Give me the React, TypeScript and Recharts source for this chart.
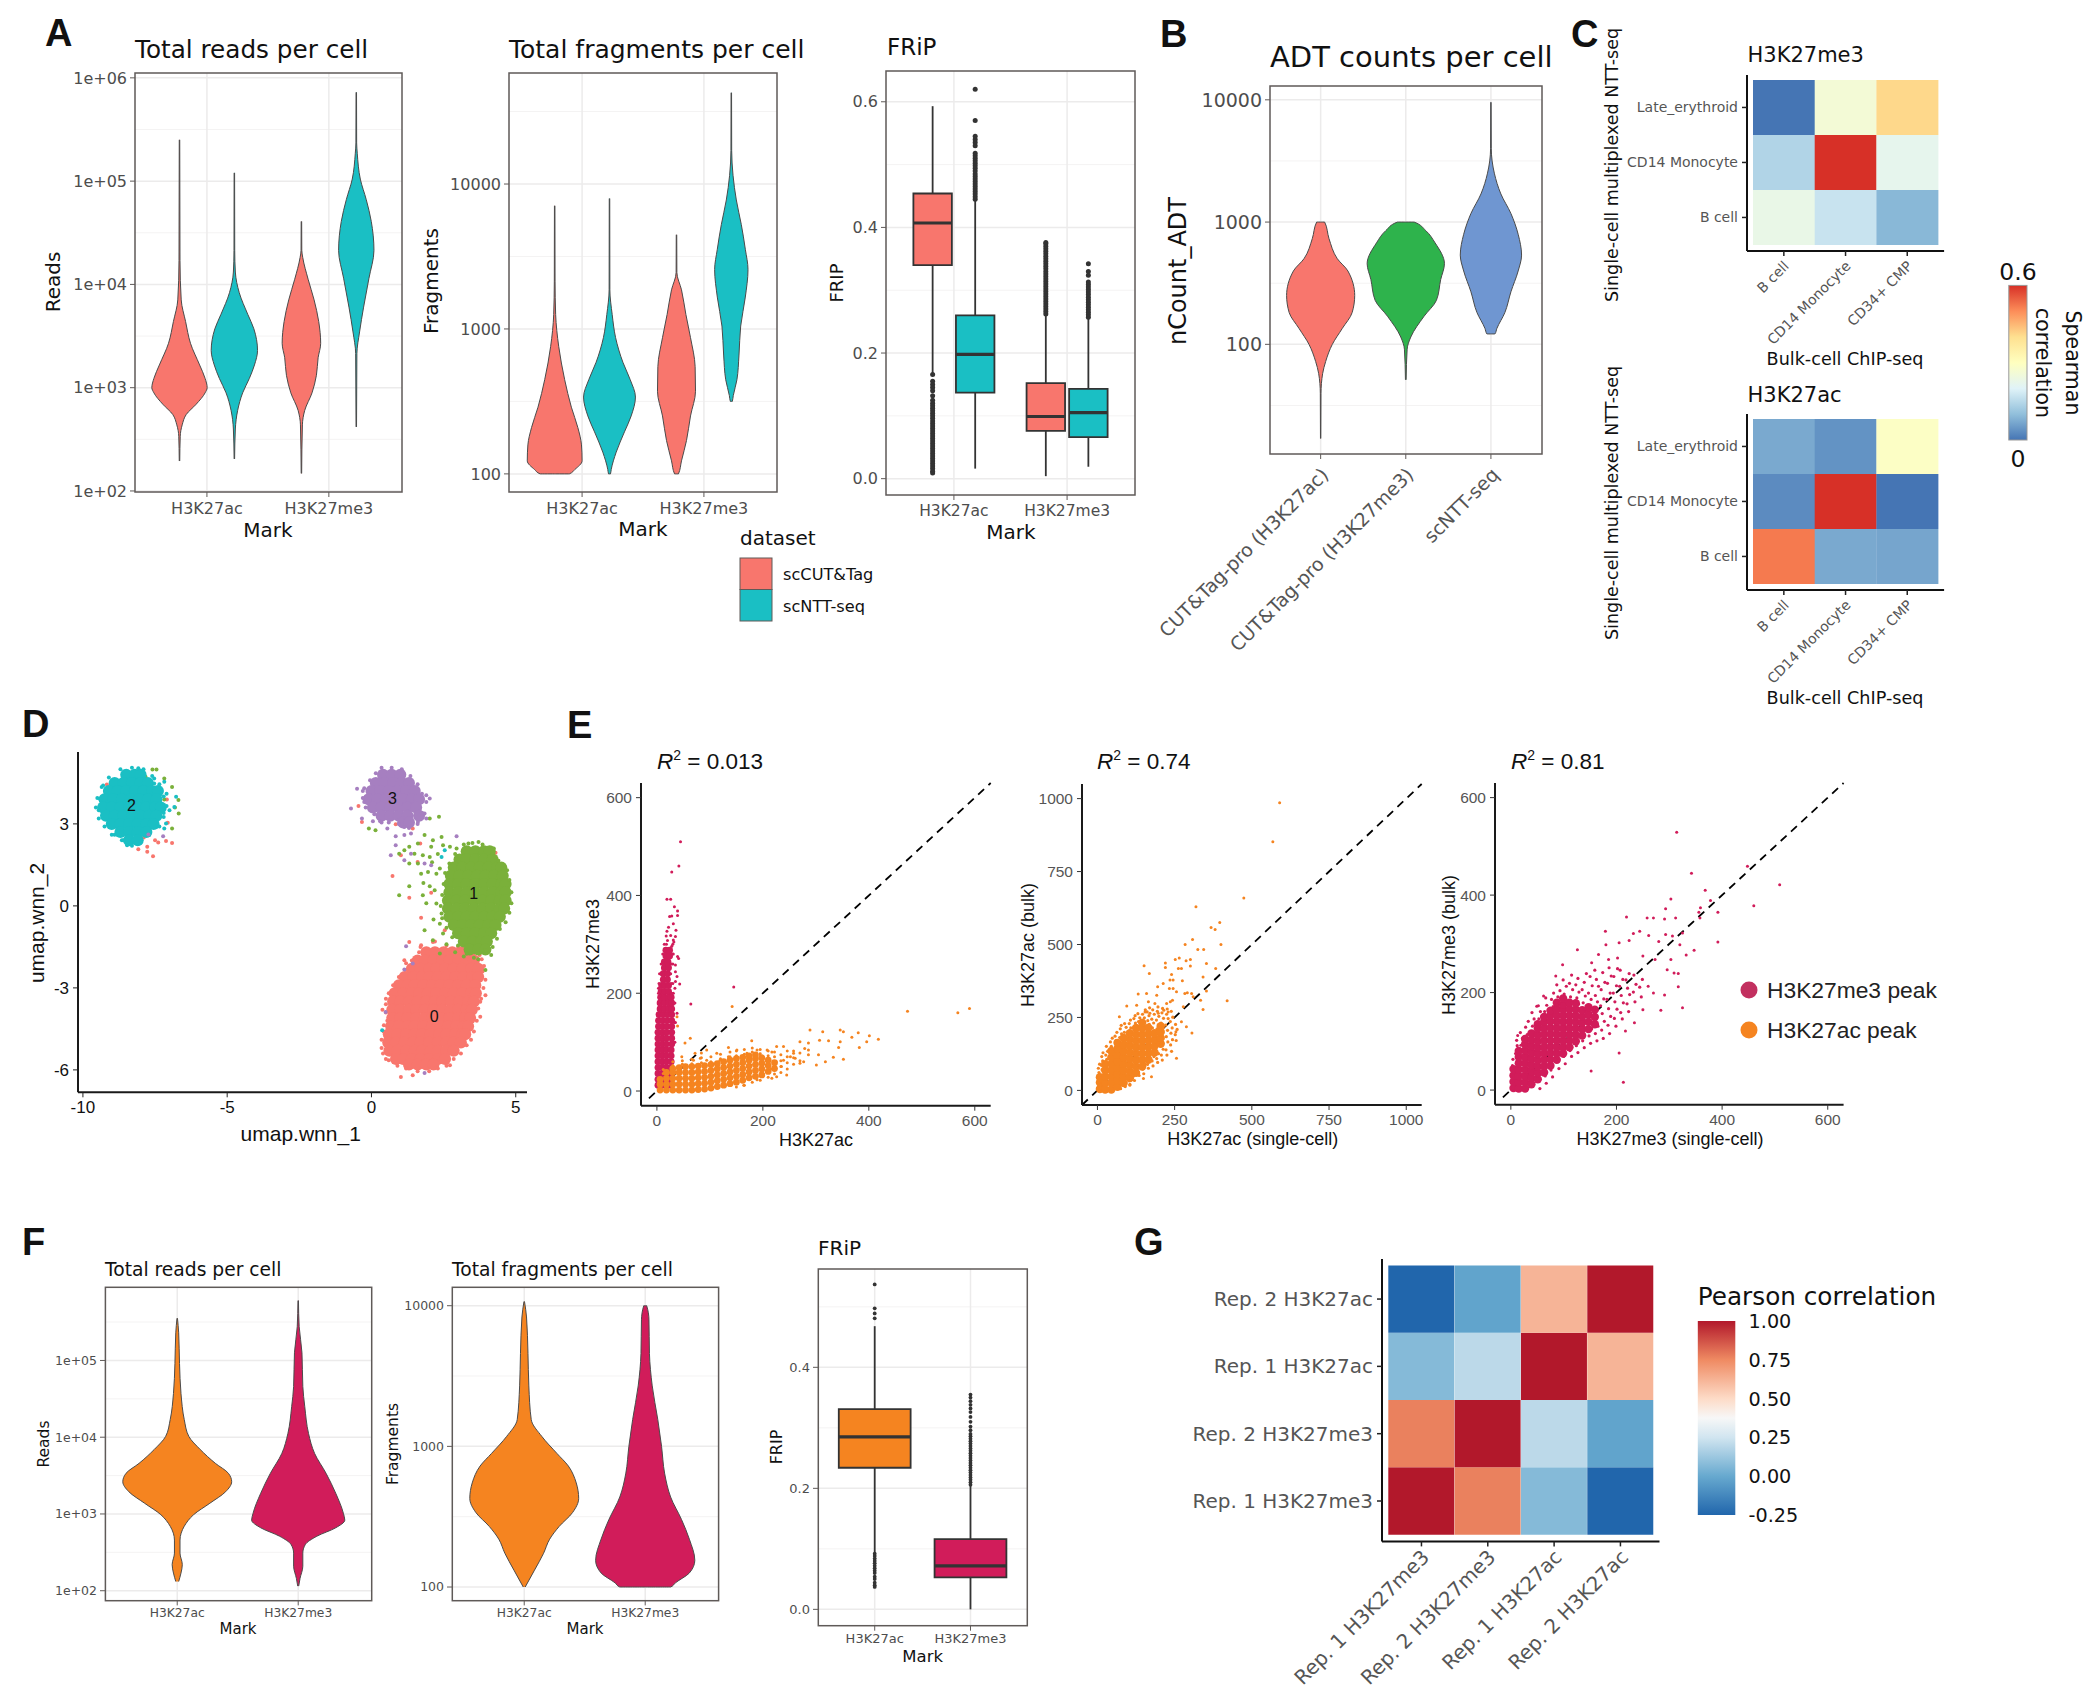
import React from 'react';
import {
  Area, Bar, BarChart, CartesianGrid, Cell, ComposedChart, ReferenceArea, ReferenceLine,
  Scatter, ScatterChart, XAxis, YAxis,
} from 'recharts';

// ---------- violin profiles: [log10(value), half width in axis units] ----------
const readsCutAc = [[5.4,.002],[4.23,.004],[3.85,.014],[3.64,.05],[3.43,.09],[3.22,.165],[3.09,.21],[3,.227],[2.95,.21],[2.84,.137],[2.74,.055],[2.64,.022],[2.53,.006],[2.29,.002]];
const readsNttAc = [[5.08,.002],[4.33,.003],[4.12,.008],[3.92,.04],[3.71,.11],[3.57,.16],[3.36,.19],[3.22,.165],[3.09,.123],[2.95,.068],[2.78,.027],[2.6,.008],[2.31,.002]];
const readsCutMe3 = [[4.61,.002],[4.33,.003],[4.26,.011],[4.05,.055],[3.85,.104],[3.64,.142],[3.43,.158],[3.29,.137],[3.12,.123],[2.95,.087],[2.78,.027],[2.64,.008],[2.17,.002]];
const readsNttMe3 = [[5.86,.002],[5.37,.003],[5.27,.008],[5.02,.033],[4.82,.082],[4.61,.123],[4.33,.145],[4.06,.104],[3.78,.06],[3.54,.027],[3.33,.005],[2.62,.002]];

const fragsCutAc = [[3.85,.002],[3.33,.003],[3.1,.008],[2.88,.033],[2.65,.082],[2.46,.137],[2.32,.19],[2.2,.22],[2.09,.225],[2.03,.165],[2,.12],[2,0]];
const fragsNttAc = [[3.9,.002],[3.27,.003],[3.1,.022],[2.94,.05],[2.77,.11],[2.65,.17],[2.53,.213],[2.4,.178],[2.29,.123],[2.15,.055],[2.03,.014],[2,.008],[2,0]];
const fragsCutMe3 = [[3.65,.002],[3.39,.003],[3.27,.041],[3.1,.077],[2.94,.115],[2.74,.153],[2.57,.156],[2.4,.115],[2.23,.082],[2.09,.041],[2,.016],[2,0]];
const fragsNttMe3 = [[4.63,.002],[4.23,.003],[4.06,.014],[3.89,.041],[3.72,.082],[3.55,.115],[3.41,.137],[3.22,.115],[3.02,.077],[2.82,.063],[2.65,.046],[2.54,.016],[2.5,.008],[2.5,0]];

const adtCutAc = [[3,0],[3,.047],[2.865,.098],[2.7,.196],[2.6,.32],[2.4,.4],[2.26,.37],[2.13,.254],[2,.137],[1.86,.059],[1.76,.023],[1.6,.004],[1.23,.002]];
const adtCutMe3 = [[3,0],[3,.098],[2.93,.235],[2.83,.344],[2.66,.454],[2.53,.41],[2.36,.36],[2.23,.215],[2.06,.059],[1.96,.016],[1.71,.004]];
const adtNtt = [[3.98,.002],[3.6,.004],[3.4,.04],[3.23,.117],[3.07,.235],[2.9,.32],[2.73,.36],[2.6,.32],[2.43,.235],[2.26,.164],[2.13,.07],[2.085,.047],[2.085,0]];

const repReadsAc = [[5.55,.002],[5.36,.012],[4.96,.019],[4.57,.031],[4.23,.058],[4.01,.096],[3.84,.19],[3.66,.315],[3.53,.423],[3.42,.45],[3.29,.4],[3.14,.27],[2.99,.135],[2.84,.058],[2.66,.023],[2.49,.023],[2.34,.042],[2.23,.031],[2.12,.012]];
const repReadsMe3 = [[5.78,.002],[5.44,.008],[5.1,.031],[4.66,.038],[4.4,.054],[4.05,.085],[3.79,.135],[3.53,.23],[3.27,.31],[3.01,.373],[2.92,.385],[2.82,.31],[2.71,.154],[2.6,.058],[2.49,.038],[2.32,.038],[2.16,.015],[2.06,.004]];
const repFragsAc = [[4.03,.002],[3.92,.019],[3.66,.031],[3.43,.038],[3.19,.058],[3.07,.146],[2.95,.27],[2.86,.365],[2.74,.43],[2.63,.45],[2.53,.4],[2.43,.288],[2.34,.21],[2.24,.16],[2.12,.085],[2,.008]];
const repFragsMe3 = [[4,0],[4,.012],[3.9,.031],[3.66,.035],[3.43,.058],[3.19,.104],[3,.135],[2.81,.16],[2.64,.21],[2.48,.3],[2.34,.365],[2.19,.41],[2.1,.365],[2.03,.25],[2,.21],[2,0]];

// ---------- box plots: [whisker low, q1, median, q3, whisker high] ----------
const fripCutAc = [.166,.34,.407,.454,.593];
const fripNttAc = [.016,.137,.198,.26,.443];
const fripCutMe3 = [.004,.076,.099,.152,.262];
const fripNttMe3 = [.019,.066,.105,.143,.257];
const fripCutAcOut = [.166,.155,.15,.145,.14,.132,.125,.12,.116,.112,.108,.104,.1,.096,.092,.088,.084,.08,.076,.072,.068,.064,.06,.056,.052,.048,.044,.04,.036,.032,.028,.024,.02,.016,.012,.009];
const fripNttAcOut = [.445,.449,.453,.457,.461,.465,.469,.473,.477,.481,.485,.49,.494,.498,.502,.506,.51,.514,.518,.53,.535,.54,.545,.57,.62];
const fripCutMe3Out = [.262,.266,.27,.274,.278,.282,.286,.29,.294,.298,.302,.306,.31,.314,.318,.322,.326,.33,.334,.338,.342,.346,.35,.354,.358,.362,.366,.37,.374,.376];
const fripNttMe3Out = [.257,.261,.265,.269,.273,.277,.281,.285,.289,.293,.297,.301,.305,.309,.313,.324,.33,.342];
const repFripAc = [.093,.234,.285,.331,.468];
const repFripMe3 = [0,.053,.072,.116,.206];
const repFripAcOut = [.537,.4975,.489,.481,.092,.088,.084,.08,.076,.072,.068,.064,.06,.054,.05,.044,.04,.037];
const repFripMe3Out = [.206,.21,.214,.218,.222,.226,.23,.234,.238,.242,.246,.25,.254,.258,.262,.266,.27,.274,.278,.282,.286,.29,.296,.302,.31,.318,.326,.332,.338,.344,.35,.355];

// ---------- heat maps, bottom row first ----------
const cellTypesX = ['B cell', 'CD14 Monocyte', 'CD34+ CMP'];
const cellTypesY = ['B cell', 'CD14 Monocyte', 'Late_erythroid'];
const spearmanMe3 = [[.23,.17,.09],[.14,.6,.22],[0,.26,.41]];
const spearmanAc = [[.52,.07,.065],[.03,.6,0],[.07,.04,.29]];
const repLabels = ['Rep. 1 H3K27me3', 'Rep. 2 H3K27me3', 'Rep. 1 H3K27ac', 'Rep. 2 H3K27ac'];
const pearson = [[1,.77,.07,-.25],[.77,1,.2,-.02],[.07,.2,1,.62],[-.25,-.02,.62,1]];
const pearsonTicks = ['1.00', '0.75', '0.50', '0.25', '0.00', '-0.25'];

// ---------- UMAP: dense parts as rows [y, x...], outline and stray cells as [x, y] ----------
const umap0Core = [
  [-1.7,1.9,2.2,2.5,2.8,3.1,3.4],[-2,1.6,1.85,2.15,2.45,2.7,3,3.3,3.55],[-2.3,1.4,1.7,2,2.25,2.55,2.85,3.15,3.45,3.7],
  [-2.6,1.15,1.45,1.75,2,2.3,2.6,2.9,3.2,3.5,3.7],[-2.9,.95,1.25,1.5,1.8,2.1,2.4,2.7,3,3.3,3.6],
  [-3.2,.8,1.1,1.4,1.65,1.95,2.25,2.55,2.85,3.15,3.45,3.62],[-3.5,.75,1,1.3,1.6,1.9,2.2,2.45,2.75,3.05,3.35,3.55],
  [-3.8,.72,1,1.3,1.55,1.85,2.15,2.45,2.75,3,3.3,3.48],[-4.1,.72,1,1.25,1.55,1.85,2.1,2.4,2.7,3,3.25,3.42],
  [-4.4,.68,.95,1.25,1.5,1.8,2.1,2.4,2.65,2.95,3.2,3.35],[-4.7,.6,.9,1.2,1.5,1.75,2.05,2.35,2.6,2.9,3.15,3.25],
  [-5,.58,.85,1.15,1.45,1.7,2,2.3,2.6,2.85,3.1],[-5.3,.62,.9,1.2,1.5,1.75,2.05,2.3,2.6,2.85],[-5.6,.85,1.1,1.4,1.7,2,2.3,2.55],[-5.8,1.3,1.6,1.9,2.15],
];
const umap1Core = [
  [2,3.3,3.6,3.9,4.1],[1.7,3.05,3.3,3.6,3.9,4.2],[1.4,2.85,3.15,3.45,3.75,4.05,4.35,4.5],[1.1,2.75,3.05,3.35,3.65,3.95,4.25,4.55],
  [.8,2.7,3,3.3,3.6,3.9,4.2,4.5,4.65],[.5,2.7,3,3.3,3.6,3.9,4.2,4.5,4.65],[.2,2.65,2.95,3.25,3.55,3.85,4.15,4.45,4.65],
  [-.1,2.65,2.95,3.25,3.55,3.85,4.15,4.45,4.6],[-.4,2.7,3,3.3,3.6,3.9,4.2,4.45],[-.7,2.85,3.15,3.45,3.75,4.05,4.3],
  [-1,3,3.3,3.6,3.9,4.15],[-1.3,3.2,3.5,3.8,4],[-1.6,3.4,3.7,3.95],
];
const umap2Core = [
  [4.8,-8.5,-8.2,-8],[4.5,-8.9,-8.6,-8.3,-8,-7.75],[4.2,-9.1,-8.8,-8.5,-8.2,-7.9,-7.6,-7.4],[3.9,-9.25,-8.95,-8.65,-8.35,-8.05,-7.75,-7.45],
  [3.6,-9.3,-9,-8.7,-8.4,-8.1,-7.8,-7.5,-7.3],[3.3,-9.2,-8.9,-8.6,-8.3,-8,-7.7,-7.45],[3,-9,-8.7,-8.4,-8.1,-7.8,-7.55],[2.7,-8.7,-8.4,-8.1,-7.8],[2.4,-8.4,-8.1],
];
const umap3Core = [
  [4.8,.4,.7,1],[4.5,.15,.45,.75,1.05,1.3],[4.2,0,.3,.6,.9,1.2,1.5],[3.9,-.1,.2,.5,.8,1.1,1.4,1.65],[3.6,.05,.35,.65,.95,1.25,1.55],[3.3,.35,.65,.95,1.25,1.65],[3.05,1.1,1.3],
];
const umap0Stray = [[1.72,-.43],[1.31,.3],[.73,1.09],[1.31,-1.32],[1.72,-1.44],[2.13,-1.32],[1.14,-1.99],[1.43,-2.05],[3.95,-3.27],[3.77,-3.51],[3.77,-4.06],[2.72,-5.83],[1.02,-6.26],[1.43,-6.2],[.43,-4.37],[2.54,-.89],[2.07,.48],[1.69,2.28],[1.43,2.83],[.84,2.99],[-.33,3.07],[-.45,3.65],[1.02,1.85],[1.6,1.61],[4.3,1.94],[-9.17,4.44],[-8.08,2.07],[-7.77,2.16],[-7.77,1.98],[-7.57,1.82],[-7.5,2.4],[-7.39,2.32],[-7.12,2.37],[-6.91,2.3],[-7.06,3.04],[-7.89,2.5],[-7.09,3.89],[.5,-3.4],[.38,-3.8],[.35,-4.9],[.35,-5.2],[.5,-5.6],[3.9,-2.2],[3.82,-1.95],[1.2,-2.1],
  [1.7,-1.5],[2.2,-1.3],[2.6,-1.45],[3,-1.5],[3.4,-1.55],[3.75,-1.8],[3.85,-2.4],[3.95,-2.7],[3.88,-3],[3.8,-3.4],[3.7,-3.75],[3.65,-4.2],[3.55,-4.6],[3.45,-4.9],[3.3,-5.1],[3.1,-5.4],[2.85,-5.6],[2.6,-5.85],[2.3,-5.95],[2,-6.05],[1.6,-6.05],[1.2,-5.95],[.9,-5.85],[.6,-5.65],[.4,-5.4],[.42,-4.6],[.55,-4.2],[.5,-3.9],[.5,-3.6],[.6,-3.2],[.75,-2.9],[.95,-2.6],[1.2,-2.35],[1.4,-2],[1.65,-1.7]];
const umap1Stray = [[.96,1.91],[1.14,2.04],[1.31,2.16],[1.49,1.91],[1.61,2.28],[1.78,1.85],[2.02,1.79],[2.07,2.16],[1.84,2.59],[2.13,2.4],[2.43,2.52],[2.48,2.22],[2.72,2.16],[2.95,2.1],[3.36,2.28],[3.71,2.34],[4.24,2.1],[1.72,1.18],[1.96,1.24],[2.25,1.18],[2.37,1.37],[1.31,1.55],[1.61,1.55],[.96,.39],[1.31,.72],[1.8,.84],[2.02,.72],[2.19,.57],[1.78,.39],[2.25,.09],[2.43,-.28],[2.37,-.65],[1.84,-.89],[2.13,-1.26],[2.48,-1.01],[2.37,-1.74],[3.95,-2.35],[3.95,-1.62],[2.02,3.2],[2.34,3.26],[-.09,2.83],[.14,2.77],[-7.59,4.99],[-7.45,4.99],[-7.18,4.66],[-6.91,4.35],[-6.69,3.87],[-6.81,3.6],[-6.68,3.38],[-6.91,2.83],[-7.18,3.89],[-7.83,4.72],[2.1,1.6],[2.3,1.9],[1.9,.1],[2.15,-.5],[2.6,-1.4],[2.9,-1.7],[3.2,-1.85],[3.55,-1.9],
  [3.2,2.25],[3.5,2.3],[3.85,2.25],[4.2,1.95],[4.4,1.65],[4.7,1.3],[4.78,.95],[4.85,.5],[4.85,.1],[4.78,-.25],[4.65,-.6],[4.45,-.85],[4.35,-1.2],[4.2,-1.5],[4.15,-1.8],[3.7,-1.95],[3.3,-1.75],[3,-1.45],[2.8,-1.15],[2.6,-.8],[2.45,-.45],[2.4,0],[2.45,.4],[2.5,.8],[2.55,1.2],[2.7,1.55],[2.9,1.9]];
const umap2Stray = [[-8.08,5.04],[-7.53,4.66],[-7.18,4.54],[-6.77,3.99],[-6.83,3.62],[-7.12,3.01],[-7.18,2.83],[-8.47,2.22],[.37,-4.55],[2.54,2.04],[2.43,1.79],[-7.53,4.48],[-7,3.5],[-8.65,2.4],[-9.4,3.9],[-9.45,3.5],[-9.3,4.4],[-8.9,2.6],[-7.2,3.4],[-7.1,4.1],
  [-8.7,5],[-8.3,5.05],[-7.9,5],[-9.1,4.7],[-9.35,4.35],[-9.5,3.95],[-9.55,3.6],[-9.45,3.2],[-9.25,2.9],[-9,2.6],[-8.6,2.4],[-8.3,2.2],[-8,2.35],[-7.7,2.6],[-7.35,2.9],[-7.2,3.25],[-7.1,3.65],[-7.2,4],[-7.35,4.45],[-7.6,4.75]];
const umap3Stray = [[-.71,3.56],[-.5,4.29],[-.33,3.2],[.55,2.83],[.84,2.55],[1.14,2.59],[1.37,2.65],[.84,2.22],[.67,1.85],[1.14,1.67],[1.37,1.91],[1.84,1.55],[2.07,1.49],[2.95,2.55],[2.02,3.93],[1.84,3.38],[1.61,3.07],[1.14,2.89],[.49,-3.88],[1.2,-1.48],[1.14,-2.33],[1.84,-6.11],[1.43,-2.11],[-7.22,2.55],[-7.73,2.61],[-.3,4.2],[-.25,3.8],[.05,3.1],[1.9,4.05],[.35,3.05],
  [.35,5.05],[.7,5.05],[1.05,5],[1.35,4.75],[1.6,4.45],[1.75,4.1],[1.9,3.8],[1.75,3.4],[1.9,3.2],[1.6,3],[1.3,2.85],[.95,3],[.6,3.05],[.3,3.1],[.1,3.35],[-.2,3.6],[-.3,3.95],[-.25,4.3],[-.05,4.6],[.15,4.85]];
const umapClusterNames = [{ x: 2.17, y: -4.04, name: '0' }, { x: 3.54, y: .45, name: '1' }, { x: -8.32, y: 3.68, name: '2' }, { x: .73, y: 3.93, name: '3' }];

// ---------- peak scatter: dense parts as rows, fringes and stray peaks as [x, y] ----------
const acVsMe3Crimson = [
  [12,2,10,18,26],[24,2,10,18,26],[36,2,10,18,26],[48,2,10,18,26],[60,2,10,18,27],[72,2,10,18,27],[84,2,10,18,27],[96,2,10,18,28],[108,2,10,18,28],
  [120,2,10,18,28],[132,3,11,19,28],[144,3,11,19,28],[156,4,12,20,28],[168,6,14,22,28],[180,6,14,22,28],[192,7,14,22,27],[204,8,15,22],[216,9,15,22],
  [228,12,20],[240,12,20],[252,14,22],[264,14,21],[276,17,24],[288,17,24],
];
const acVsMe3CrimsonFringe = [[100,32,34],[140,33,35],[180,31,34],[200,28,31,3],[210,3,34],[220,27,30,4],[240,26,5,8],[260,8,27,30],[280,11,29,31],[300,14,30]];
const acVsMe3Orange = [
  [6,2,14,24],[18,2,14,26,38],[30,2,14,26,38,46],[42,2,14,26,38,48],[54,2,14,26,38,50],[66,2,14,26,38,50],[78,3,15,27,39,51],[90,4,16,28,40,52],
  [102,6,18,30,42,54],[114,9,21,33,45,56],[126,12,24,36,48,60],[138,15,27,39,51,63],[150,18,30,42,54,66],[162,22,34,46,58,69],[174,27,39,51,63,72],
  [186,30,42,54,66,74],[198,33,45,57,68],[210,40,52,63],[222,46,58],
];
const acVsMe3OrangeFringe = [[12,36,44],[30,52,60],[48,55,62],[66,56,65],[84,58,68,78],[102,60,70],[120,66,75],[138,70,80],[150,8,72,82],[165,12,75,85],[180,18,80,88],[195,22,76,85],[210,28,72,82],[222,35,70,80],[234,38,50,62,74],[246,45,58,70,82],[258,55,68,82],[270,62,78]];
const acVsMe3CrimsonStray = [[44.6,510],[41.5,460],[28,448],[19,392],[26,392],[33,377],[39,368],[39,359],[24,357],[28,358],[31,342],[19,327],[36,329],[17.6,317],[35,316],[31,309],[39,275],[41,271],[35,258],[35,244],[38,234],[35,224],[43,219],[145,213],[64,178],[38,159],[18,300],[28,296],[20,308],[32,305],[26,318],[22,335]];
const acVsMe3OrangeStray = [[473,163],[568,160],[590,169],[142,173],[289,125],[313,121],[346,125],[352,121],[380,119],[368,110],[324,103],[307,104],[401,113],[418,106],[396,101],[346,101],[343,89],[382,89],[286,98],[270,101],[279,87],[286,84],[305,74],[333,69],[352,65],[318,60],[301,53],[286,74],[270,57],[258,77],[239,91],[226,91],[217,80],[179,103],[135,89],[113,77],[94,84],[72,77],[63,108],[53,98],[38,152],[39,133],[69,63],[47,70],[245,33],[226,29],[217,26],[189,23],[164,12],[252,70],[261,67],[277,60],[239,63],[208,84],[189,84],[170,77],[151,84],[135,70],[119,63],[94,63],[82,67],[225,60],[235,50],[215,45]];

const acBulkCore = [
  [8,5,27,45],[25,3,25,47,69,90],[45,3,25,47,69,91,113,135],[65,12,34,56,78,100,122,144,163],[85,25,47,69,91,113,135,157,180],[105,42,64,86,108,130,152,174,196],
  [125,60,82,104,126,148,170,192,214],[145,82,104,126,148,170,192,214,232],[165,105,127,149,171,193,215],[185,130,152,174,196],[205,160,180,200,220],
];
const acBulkFringe = [[5,61],[3,76],[7,90],[15,71],[13,86],[17,101],[14,116],[18,129],[30,106],[27,121],[33,134],[29,151],[45,151],[42,166],[48,179],[60,171],[57,186],[63,199],[75,6],[72,181],[78,194],[74,211],[77,223],[90,13],[87,199],[93,216],[88,229],[105,21],[102,33],[108,214],[103,229],[107,241],[120,34],[117,49],[123,231],[118,246],[122,256],[135,51],[132,64],[138,79],[133,236],[137,249],[131,263],[150,57],[147,73],[153,91],[148,234],[152,249],[146,261],[155,276],[165,76],[162,89],[168,226],[163,239],[167,256],[161,269],[169,283],[180,84],[177,101],[183,116],[178,214],[182,231],[176,244],[184,261],[179,276],[195,96],[192,109],[198,126],[193,211],[197,224],[191,241],[199,254],[194,271],[196,286],[210,104],[207,121],[213,141],[208,161],[212,214],[206,231],[214,247],[209,266],[211,281],[225,121],[222,139],[228,166],[223,184],[227,206],[221,224],[229,246],[224,261],[226,279],[240,134],[237,156],[243,174],[238,196],[242,214],[236,236],[244,251],[239,271],[255,171],[252,191],[258,209],[253,226]];
const acBulkStray = [[590,986],[568,852],[474,659],[319,629],[396,575],[368,558],[381,551],[400,500],[284,500],[308,517],[325,483],[344,483],[252,449],[265,454],[287,444],[301,449],[220,437],[220,421],[151,427],[168,401],[262,418],[272,418],[301,426],[353,435],[383,418],[240,397],[235,378],[245,378],[275,376],[342,389],[420,307],[353,341],[342,277],[334,309],[310,321],[305,332],[283,332],[291,335],[256,338],[245,349],[233,349],[213,366],[195,355],[132,330],[159,332],[192,326],[95,289],[71,252],[127,292],[165,304],[186,298],[224,298],[236,304],[154,269],[170,264],[197,264],[215,275],[229,269],[243,309],[278,287],[288,218],[306,197],[272,235],[254,201],[256,110],[175,47],[149,41],[105,18]];

const me3BulkCore = [
  [5,4,17,30,43],[15,3,16,29,42,55,68,80],[27,3,16,29,42,55,68,81,94,105],[39,12,25,38,51,64,77,90,103,116],[51,22,35,48,61,74,87,100,113,126,135],
  [63,36,49,62,75,88,101,114,127,140,150],[75,50,63,76,89,102,115,128,141,154,163],[87,62,75,88,101,114,127,140,153,166,179],[99,75,88,101,114,127,140,153,166,175,188],
  [111,88,101,114,127,140,153,166,179],[123,100,113,126,139,152,165,178],[135,112,125,138,151,164],[147,125,140,155,170],[159,135,150,165],
];
const me3BulkFringe = [[3,50],[4,63],[9,75],[12,91],[11,102],[19,92],[22,106],[18,118],[31,114],[28,129],[33,141],[41,131],[44,146],[40,159],[55,3],[53,146],[56,161],[52,173],[67,14],[65,29],[64,161],[68,174],[66,189],[79,27],[76,41],[80,171],[77,186],[81,199],[91,44],[88,59],[92,179],[89,191],[93,204],[87,216],[103,54],[100,69],[104,186],[101,197],[105,213],[99,226],[115,69],[112,81],[116,179],[113,191],[117,206],[111,219],[115,236],[127,77],[124,91],[128,176],[125,189],[129,201],[123,216],[127,229],[139,87],[136,101],[140,166],[137,179],[141,193],[135,206],[139,221],[143,239],[151,96],[148,111],[153,126],[149,171],[152,186],[147,199],[154,214],[150,233],[163,101],[160,116],[165,131],[161,149],[158,166],[164,181],[160,194],[166,213],[162,227],[159,246],[175,106],[172,123],[177,141],[173,157],[170,173],[176,187],[171,206],[178,221],[174,241],[187,116],[184,133],[189,151],[185,167],[182,186],[188,199],[183,219],[190,234],[186,251],[199,131],[196,147],[201,166],[197,181],[194,199],[200,214],[195,233],[202,249],[211,146],[208,159],[213,179],[209,194],[206,213],[212,227],[207,246],[223,161],[220,177],[225,196],[221,209],[218,226],[224,239],[235,181],[232,201],[237,217],[233,236],[247,191],[244,211],[249,227]];
const me3BulkStray = [[314,529],[342,445],[448,459],[509,421],[460,378],[368,410],[378,389],[359,374],[356,365],[392,365],[358,353],[392,304],[303,392],[293,372],[219,355],[258,353],[270,353],[291,351],[312,353],[179,326],[180,298],[232,321],[244,326],[261,317],[280,305],[293,319],[306,316],[325,322],[347,287],[332,277],[320,298],[205,302],[224,307],[126,288],[166,278],[153,261],[185,268],[202,271],[250,275],[273,268],[303,268],[296,247],[309,240],[317,239],[317,212],[291,195],[325,169],[284,164],[250,165],[234,138],[217,121],[205,76],[213,16],[152,39],[98,257],[85,234],[62,193],[49,172],[13,112],[260,213],[270,199]];

// ---------- palettes ----------
const SALMON = '#F8766D';
const TEAL = '#1ABFC4';
const GREEN = '#2EB34C';
const BLUE = '#6F96D1';
const ORANGE = '#F58420';
const CRIMSON = '#D11C5A';
const PURPLE = '#A67FC0';
const UMAP_GREEN = '#7AB03A';
const spearmanStops: [number, string][] = [[0,'#4575B4'],[.1,'#91BFDB'],[.2,'#E0F3F8'],[.3,'#FFFFBF'],[.4,'#FEE090'],[.5,'#FC8D59'],[.6,'#D73027']];
const pearsonStops: [number, string][] = [[-.25,'#2166AC'],[0,'#67A9CF'],[.25,'#D1E5F0'],[.375,'#F7F7F7'],[.5,'#FDDBC7'],[.75,'#EF8A62'],[1,'#B2182B']];

const hexToRgb = (h: string) => [1, 3, 5].map((i) => parseInt(h.slice(i, i + 2), 16));
const colorOf = (stops: [number, string][], v: number) => {
  for (let i = 1; i < stops.length; i++) {
    if (v <= stops[i][0]) {
      const t = (v - stops[i - 1][0]) / (stops[i][0] - stops[i - 1][0]);
      const a = hexToRgb(stops[i - 1][1]);
      const b = hexToRgb(stops[i][1]);
      return `rgb(${a.map((c, k) => Math.round(c + (b[k] - c) * Math.max(t, 0))).join(',')})`;
    }
  }
  return stops[stops.length - 1][1];
};

const SANS = '"DejaVu Sans"';
const ARIAL = '"Liberation Sans"';
const FRAME = '#5F5A58';
const TICK = '#4D4D4D';

type Box = { x0: number; y0: number; x1: number; y1: number };

const holder = (b: Box, L: number, B: number, T = 10, R = 10) => ({
  style: { position: 'absolute' as const, left: b.x0 - L, top: b.y0 - T },
  width: b.x1 - b.x0 + L + R,
  height: b.y1 - b.y0 + T + B,
  margin: { top: T, right: R, left: 0, bottom: 0 },
});

const fromRows = (rows: number[][]) => rows.flatMap(([y, ...xs]) => xs.map((x) => ({ x, y })));
const fromCols = (cols: number[][]) => cols.flatMap(([x, ...ys]) => ys.map((y) => ({ x, y })));
const fromPairs = (pairs: number[][]) => pairs.map(([x, y]) => ({ x, y }));

const dot = (r: number, fill: string) => (p: any) => <circle cx={p.cx} cy={p.cy} r={r} fill={fill} />;

const rotatedTick = (labels: (v: any) => string, size: number, dx: number, dy: number) => (p: any) => (
  <text
    x={p.x + dx} y={p.y + dy} fontSize={size} fontFamily={SANS} fill="#555" textAnchor="end"
    transform={`rotate(-45 ${p.x + dx} ${p.y + dy})`}
  >
    {labels(p.payload.value)}
  </text>
);

type ViolinPanelProps = {
  box: Box; xDomain: number[]; yDomain: number[]; xTicks: number[]; yTicks: number[]; minor: number[];
  labels: string[]; yFmt: (v: number) => string; violins: { profile: number[][]; at: number; fill: string }[];
  tickSize: number; yTickSize: number; xMargin?: number; rotate?: boolean;
};

const ViolinPanel = ({ box, xDomain, yDomain, xTicks, yTicks, minor, labels, yFmt, violins, tickSize, yTickSize, xMargin = 3, rotate }: ViolinPanelProps) => {
  const empty: any = Object.fromEntries(violins.map((_, i) => [`v${i}`, [null, null]]));
  const rows = violins.flatMap((v, i) => v.profile.map(([y, hw]) => ({ ...empty, y, [`v${i}`]: [v.at - hw, v.at + hw] })));
  const h = holder(box, 150, rotate ? 230 : 60);
  return (
    <div style={h.style}>
      <ComposedChart layout="vertical" width={h.width} height={h.height} margin={h.margin} data={rows}>
        <CartesianGrid horizontalValues={minor} vertical={false} stroke="#F4F3F3" />
        <CartesianGrid horizontalValues={yTicks} verticalValues={xTicks} stroke="#ECEBEB" strokeWidth={1.5} />
        <XAxis
          type="number" domain={xDomain} ticks={xTicks} interval={0} height={rotate ? 230 : 60} allowDataOverflow
          axisLine={false} tickLine={{ stroke: FRAME }} tickSize={5} tickMargin={xMargin}
          tickFormatter={(v) => labels[v - 1]}
          tick={rotate ? rotatedTick((v) => labels[v - 1], 19, 9, 14) : { fontSize: tickSize, fill: TICK, fontFamily: SANS }}
        />
        <YAxis
          type="number" dataKey="y" domain={yDomain} ticks={yTicks} interval={0} width={150} allowDataOverflow reversed
          axisLine={false} tickLine={{ stroke: FRAME }} tickSize={5} tickMargin={3}
          tickFormatter={yFmt} tick={{ fontSize: yTickSize, fill: TICK, fontFamily: SANS }}
        />
        {violins.map((v, i) => (
          <Area
            key={i} dataKey={`v${i}`} type="monotone" fill={v.fill} fillOpacity={1} stroke="#4A4A4A" strokeWidth={1}
            dot={false} activeDot={false} isAnimationActive={false}
          />
        ))}
      </ComposedChart>
    </div>
  );
};

type BoxPanelProps = {
  box: Box; xDomain: number[]; yDomain: number[]; yTicks: number[]; minor: number[]; labels: string[]; halfWidth: number;
  boxes: { stats: number[]; outliers: number[]; at: number; fill: string }[]; tickSize: number; yTickSize: number; dotR: number; xMargin?: number;
};

const BoxPanel = ({ box, xDomain, yDomain, yTicks, minor, labels, halfWidth, boxes, tickSize, yTickSize, dotR, xMargin = 3 }: BoxPanelProps) => {
  const h = holder(box, 110, 60);
  return (
    <div style={h.style}>
      <ScatterChart width={h.width} height={h.height} margin={h.margin}>
        <CartesianGrid horizontalValues={minor} vertical={false} stroke="#F4F3F3" />
        <CartesianGrid horizontalValues={yTicks} verticalValues={[1, 2]} stroke="#ECEBEB" strokeWidth={1.5} />
        <XAxis
          type="number" dataKey="x" domain={xDomain} ticks={[1, 2]} interval={0} height={60} allowDataOverflow
          axisLine={false} tickLine={{ stroke: FRAME }} tickSize={5} tickMargin={xMargin} tickFormatter={(v) => labels[v - 1]}
          tick={{ fontSize: tickSize, fill: TICK, fontFamily: SANS }}
        />
        <YAxis
          type="number" dataKey="y" domain={yDomain} ticks={yTicks} interval={0} width={110} allowDataOverflow
          axisLine={false} tickLine={{ stroke: FRAME }} tickSize={5} tickMargin={3} tickFormatter={(v) => v.toFixed(1)}
          tick={{ fontSize: yTickSize, fill: TICK, fontFamily: SANS }}
        />
        {boxes.map((b, i) => (
          <ReferenceLine key={`lo${i}`} segment={[{ x: b.at, y: b.stats[0] }, { x: b.at, y: b.stats[1] }]} stroke="#333" strokeWidth={1.8} />
        ))}
        {boxes.map((b, i) => (
          <ReferenceLine key={`hi${i}`} segment={[{ x: b.at, y: b.stats[3] }, { x: b.at, y: b.stats[4] }]} stroke="#333" strokeWidth={1.8} />
        ))}
        {boxes.map((b, i) => (
          <ReferenceArea
            key={`box${i}`} x1={b.at - halfWidth} x2={b.at + halfWidth} y1={b.stats[1]} y2={b.stats[3]}
            fill={b.fill} fillOpacity={1} stroke="#333" strokeWidth={1.8}
          />
        ))}
        {boxes.map((b, i) => (
          <ReferenceLine
            key={`med${i}`} segment={[{ x: b.at - halfWidth, y: b.stats[2] }, { x: b.at + halfWidth, y: b.stats[2] }]}
            stroke="#333" strokeWidth={3.2}
          />
        ))}
        {boxes.map((b, i) => (
          <Scatter key={`out${i}`} data={b.outliers.map((y) => ({ x: b.at, y }))} shape={dot(dotR, '#333')} isAnimationActive={false} />
        ))}
      </ScatterChart>
    </div>
  );
};

type HeatProps = {
  box: Box; xLabels: string[]; yLabels: string[]; matrix: number[][]; stops: [number, string][];
  pad: [number, number]; yDomain: number[]; size: number; dx: number; dy: number; L: number; B: number; tickWidth: number;
};

const Heat = ({ box, xLabels, yLabels, matrix, stops, pad, yDomain, size, dx, dy, L, B, tickWidth }: HeatProps) => {
  const data = xLabels.map((col) => ({ col, ...Object.fromEntries(yLabels.map((_, r) => [`r${r}`, 1])) }));
  const h = holder(box, L, B);
  return (
    <div style={h.style}>
      <BarChart width={h.width} height={h.height} margin={h.margin} data={data} barCategoryGap={0} barGap={0}>
        <XAxis
          dataKey="col" interval={0} height={B} padding={{ left: pad[0], right: pad[1] }}
          axisLine={{ stroke: '#111', strokeWidth: 2 }} tickLine={{ stroke: '#222', strokeWidth: 1.5 }} tickSize={5}
          tick={rotatedTick((v) => v, size, dx, dy)}
        />
        <YAxis
          type="number" domain={yDomain} ticks={yLabels.map((_, i) => i + .5)} interval={0} width={L} allowDataOverflow
          axisLine={{ stroke: '#111', strokeWidth: 2 }} tickLine={{ stroke: '#222', strokeWidth: 1.5 }} tickSize={5} tickMargin={4}
          tickFormatter={(v) => yLabels[Math.floor(v)]} tick={{ fontSize: tickWidth, fill: '#555', fontFamily: SANS }}
        />
        {yLabels.map((_, r) => (
          <Bar key={r} dataKey={`r${r}`} stackId="s" isAnimationActive={false}>
            {xLabels.map((_c, c) => <Cell key={c} fill={colorOf(stops, matrix[r][c])} />)}
          </Bar>
        ))}
      </BarChart>
    </div>
  );
};

const axisBlack = { stroke: '#1A1A1A', strokeWidth: 2 };

type PeakProps = { box: Box; domain: number[]; ticks: number[]; layers: { data: { x: number; y: number }[]; r: number; fill: string }[]; lineFrom: number };

const PeakPanel = ({ box, domain, ticks, layers, lineFrom }: PeakProps) => {
  const h = holder(box, 70, 50);
  return (
    <div style={h.style}>
      <ScatterChart width={h.width} height={h.height} margin={h.margin}>
        <XAxis
          type="number" dataKey="x" domain={domain} ticks={ticks} interval={0} height={50} allowDataOverflow
          axisLine={axisBlack} tickLine={{ stroke: '#333' }} tickSize={5} tickMargin={4}
          tick={{ fontSize: 15.5, fill: '#555', fontFamily: ARIAL }}
        />
        <YAxis
          type="number" dataKey="y" domain={domain} ticks={ticks} interval={0} width={70} allowDataOverflow
          axisLine={axisBlack} tickLine={{ stroke: '#333' }} tickSize={5} tickMargin={4}
          tick={{ fontSize: 15.5, fill: '#555', fontFamily: ARIAL }}
        />
        {layers.map((l, i) => <Scatter key={i} data={l.data} shape={dot(l.r, l.fill)} isAnimationActive={false} />)}
        <ReferenceLine
          segment={[{ x: lineFrom, y: lineFrom }, { x: domain[1], y: domain[1] }]}
          stroke="#000" strokeWidth={1.8} strokeDasharray="8 6"
        />
      </ScatterChart>
    </div>
  );
};

const UmapPanel = ({ box }: { box: Box }) => {
  const h = holder(box, 70, 50);
  const layers = [
    { data: fromRows(umap0Core), r: 6, fill: SALMON },
    { data: fromPairs(umap0Stray), r: 2, fill: SALMON },
    { data: fromRows(umap1Core), r: 6, fill: UMAP_GREEN },
    { data: fromPairs(umap1Stray), r: 2, fill: UMAP_GREEN },
    { data: fromRows(umap2Core), r: 6, fill: TEAL },
    { data: fromPairs(umap2Stray), r: 2, fill: TEAL },
    { data: fromRows(umap3Core), r: 6, fill: PURPLE },
    { data: fromPairs(umap3Stray), r: 2, fill: PURPLE },
  ];
  return (
    <div style={h.style}>
      <ScatterChart width={h.width} height={h.height} margin={h.margin}>
        <XAxis
          type="number" dataKey="x" domain={[-10.17, 5.39]} ticks={[-10, -5, 0, 5]} interval={0} height={50} allowDataOverflow
          axisLine={axisBlack} tickLine={{ stroke: '#222' }} tickSize={5} tickMargin={4}
          tick={{ fontSize: 17, fill: '#111', fontFamily: ARIAL }}
        />
        <YAxis
          type="number" dataKey="y" domain={[-6.82, 5.63]} ticks={[-6, -3, 0, 3]} interval={0} width={70} allowDataOverflow
          axisLine={axisBlack} tickLine={{ stroke: '#222' }} tickSize={5} tickMargin={4}
          tick={{ fontSize: 17, fill: '#111', fontFamily: ARIAL }}
        />
        {layers.map((l, i) => <Scatter key={i} data={l.data} shape={dot(l.r, l.fill)} isAnimationActive={false} />)}
        <Scatter
          data={umapClusterNames} isAnimationActive={false}
          shape={(p: any) => (
            <text x={p.cx} y={p.cy} textAnchor="middle" dominantBaseline="central" fontSize={16} fontFamily={ARIAL} fill="#111">{p.payload.name}</text>
          )}
        />
      </ScatterChart>
    </div>
  );
};

type TxtProps = { x: number; y: number; size: number; anchor?: 'start' | 'middle' | 'end'; rot?: number; family?: string; fill?: string; weight?: number; children: React.ReactNode };

const Txt = ({ x, y, size, anchor = 'start', rot, family = SANS, fill = '#111', weight, children }: TxtProps) => (
  <text
    x={x} y={y} fontSize={size} textAnchor={anchor} dominantBaseline="central" fontFamily={family} fill={fill} fontWeight={weight}
    transform={rot ? `rotate(${rot} ${x} ${y})` : undefined}
  >
    {children}
  </text>
);

const Frame = ({ b }: { b: Box }) => <rect x={b.x0} y={b.y0} width={b.x1 - b.x0} height={b.y1 - b.y0} fill="none" stroke={FRAME} strokeWidth={1.5} />;

const RSquared = ({ x, value }: { x: number; value: string }) => (
  <text x={x} y={769} fontSize={22.5} fontFamily={ARIAL} fill="#111">
    <tspan fontStyle="italic">R</tspan>
    <tspan dy={-9} fontSize={14}>2</tspan>
    <tspan dy={9}> = {value}</tspan>
  </text>
);

const logFmt = (v: number) => `1e+0${v}`;
const powFmt = (v: number) => String(Math.pow(10, v));
const markNames = ['H3K27ac', 'H3K27me3'];

const boxReads: Box = { x0: 135, y0: 73, x1: 402, y1: 492 };
const boxFrags: Box = { x0: 509, y0: 73, x1: 777, y1: 492 };
const boxFrip: Box = { x0: 886, y0: 71, x1: 1135, y1: 495 };
const boxAdt: Box = { x0: 1270, y0: 86, x1: 1542, y1: 454 };
const boxRepReads: Box = { x0: 105.4, y0: 1287.3, x1: 371.7, y1: 1600.7 };
const boxRepFrags: Box = { x0: 452.3, y0: 1287.3, x1: 718.6, y1: 1600.7 };
const boxRepFrip: Box = { x0: 818.3, y0: 1269, x1: 1027.3, y1: 1625.7 };

export default function App() {
  return (
    <div style={{ position: 'absolute', left: 0, top: 0, width: 2100, height: 1707, background: '#fff', overflow: 'hidden' }}>
      <ViolinPanel
        box={boxReads} xDomain={[.41, 2.6]} yDomain={[1.99, 6.047]} xTicks={[1, 2]} yTicks={[2, 3, 4, 5, 6]} minor={[2.5, 3.5, 4.5, 5.5]}
        labels={markNames} yFmt={logFmt} tickSize={16} yTickSize={16} xMargin={6}
        violins={[
          { profile: readsCutAc, at: .775, fill: SALMON }, { profile: readsNttAc, at: 1.225, fill: TEAL },
          { profile: readsCutMe3, at: 1.775, fill: SALMON }, { profile: readsNttMe3, at: 2.225, fill: TEAL },
        ]}
      />
      <ViolinPanel
        box={boxFrags} xDomain={[.4, 2.6]} yDomain={[1.875, 4.766]} xTicks={[1, 2]} yTicks={[2, 3, 4]} minor={[2.5, 3.5, 4.5]}
        labels={markNames} yFmt={powFmt} tickSize={16} yTickSize={16} xMargin={6}
        violins={[
          { profile: fragsCutAc, at: .775, fill: SALMON }, { profile: fragsNttAc, at: 1.225, fill: TEAL },
          { profile: fragsCutMe3, at: 1.775, fill: SALMON }, { profile: fragsNttMe3, at: 2.225, fill: TEAL },
        ]}
      />
      <BoxPanel
        box={boxFrip} xDomain={[.4, 2.6]} yDomain={[-.026, .649]} yTicks={[0, .2, .4, .6]} minor={[.1, .3, .5]} labels={markNames} halfWidth={.17}
        tickSize={15.5} yTickSize={16} dotR={2.5} xMargin={5}
        boxes={[
          { stats: fripCutAc, outliers: fripCutAcOut, at: .812, fill: SALMON }, { stats: fripNttAc, outliers: fripNttAcOut, at: 1.188, fill: TEAL },
          { stats: fripCutMe3, outliers: fripCutMe3Out, at: 1.812, fill: SALMON }, { stats: fripNttMe3, outliers: fripNttMe3Out, at: 2.188, fill: TEAL },
        ]}
      />
      <ViolinPanel
        box={boxAdt} xDomain={[.405, 3.6]} yDomain={[1.103, 4.113]} xTicks={[1, 2, 3]} yTicks={[2, 3, 4]} minor={[1.5, 2.5, 3.5]}
        labels={['CUT&Tag-pro (H3K27ac)', 'CUT&Tag-pro (H3K27me3)', 'scNTT-seq']} yFmt={powFmt} tickSize={19} yTickSize={19} rotate
        violins={[{ profile: adtCutAc, at: 1, fill: SALMON }, { profile: adtCutMe3, at: 2, fill: GREEN }, { profile: adtNtt, at: 3, fill: BLUE }]}
      />
      <Heat
        box={{ x0: 1746.5, y0: 75.4, x1: 1943.6, y1: 251.4 }} xLabels={cellTypesX} yLabels={cellTypesY} matrix={spearmanMe3} stops={spearmanStops}
        pad={[6, 6]} yDomain={[-.11, 3.09]} size={14} dx={6} dy={9} L={140} B={110} tickWidth={14}
      />
      <Heat
        box={{ x0: 1746.5, y0: 414.3, x1: 1943.6, y1: 590.3 }} xLabels={cellTypesX} yLabels={cellTypesY} matrix={spearmanAc} stops={spearmanStops}
        pad={[6, 6]} yDomain={[-.11, 3.09]} size={14} dx={6} dy={9} L={140} B={110} tickWidth={14}
      />
      <UmapPanel box={{ x0: 77.6, y0: 751.7, x1: 526.6, y1: 1092 }} />
      <PeakPanel
        box={{ x0: 641, y0: 783, x1: 990.7, y1: 1105.7 }} domain={[-30, 630]} ticks={[0, 200, 400, 600]} lineFrom={-15}
        layers={[
          { data: fromRows(acVsMe3Crimson), r: 3.4, fill: CRIMSON },
          { data: fromRows(acVsMe3CrimsonFringe), r: 1.5, fill: CRIMSON },
          { data: fromPairs(acVsMe3CrimsonStray), r: 1.5, fill: CRIMSON },
          { data: fromCols(acVsMe3Orange), r: 3.4, fill: ORANGE },
          { data: fromCols(acVsMe3OrangeFringe), r: 1.5, fill: ORANGE },
          { data: fromPairs(acVsMe3OrangeStray), r: 1.5, fill: ORANGE },
        ]}
      />
      <PeakPanel
        box={{ x0: 1082.3, y0: 784, x1: 1422, y1: 1105 }} domain={[-50, 1050]} ticks={[0, 250, 500, 750, 1000]} lineFrom={-50}
        layers={[
          { data: fromCols(acBulkCore), r: 4.2, fill: ORANGE },
          { data: fromPairs(acBulkFringe), r: 1.6, fill: ORANGE },
          { data: fromPairs(acBulkStray), r: 1.5, fill: ORANGE },
        ]}
      />
      <PeakPanel
        box={{ x0: 1495.4, y0: 783.3, x1: 1844, y1: 1105 }} domain={[-30, 630]} ticks={[0, 200, 400, 600]} lineFrom={-15}
        layers={[
          { data: fromCols(me3BulkCore), r: 4.2, fill: CRIMSON },
          { data: fromPairs(me3BulkFringe), r: 1.6, fill: CRIMSON },
          { data: fromPairs(me3BulkStray), r: 1.5, fill: CRIMSON },
        ]}
      />
      <ViolinPanel
        box={boxRepReads} xDomain={[.403, 2.604]} yDomain={[1.874, 5.957]} xTicks={[1, 2]} yTicks={[2, 3, 4, 5]} minor={[2.5, 3.5, 4.5, 5.5]}
        labels={markNames} yFmt={logFmt} tickSize={12.3} yTickSize={12.5}
        violins={[{ profile: repReadsAc, at: 1, fill: ORANGE }, { profile: repReadsMe3, at: 2, fill: CRIMSON }]}
      />
      <ViolinPanel
        box={boxRepFrags} xDomain={[.403, 2.604]} yDomain={[1.905, 4.133]} xTicks={[1, 2]} yTicks={[2, 3, 4]} minor={[2.5, 3.5]}
        labels={markNames} yFmt={powFmt} tickSize={12.3} yTickSize={12.5}
        violins={[{ profile: repFragsAc, at: 1, fill: ORANGE }, { profile: repFragsMe3, at: 2, fill: CRIMSON }]}
      />
      <BoxPanel
        box={boxRepFrip} xDomain={[.408, 2.59]} yDomain={[-.027, .5625]} yTicks={[0, .2, .4]} minor={[.1, .3, .5]} labels={markNames} halfWidth={.375}
        tickSize={13} yTickSize={13} dotR={1.9}
        boxes={[
          { stats: repFripAc, outliers: repFripAcOut, at: 1, fill: ORANGE },
          { stats: repFripMe3, outliers: repFripMe3Out, at: 2, fill: CRIMSON },
        ]}
      />
      <Heat
        box={{ x0: 1381.7, y0: 1259.3, x1: 1659.2, y1: 1541.7 }} xLabels={repLabels} yLabels={repLabels} matrix={pearson} stops={pearsonStops}
        pad={[6.3, 5.9]} yDomain={[-.1, 4.095]} size={20} dx={9} dy={10} L={230} B={165} tickWidth={20}
      />

      <svg width={2100} height={1707} style={{ position: 'absolute', left: 0, top: 0, pointerEvents: 'none' }}>
        <defs>
          <linearGradient id="spearmanBar" x1="0" y1="1" x2="0" y2="0">
            {spearmanStops.map(([v, c]) => <stop key={v} offset={`${(v / .6) * 100}%`} stopColor={c} />)}
          </linearGradient>
          <linearGradient id="pearsonBar" x1="0" y1="1" x2="0" y2="0">
            {pearsonStops.map(([v, c]) => <stop key={v} offset={`${((v + .25) / 1.25) * 100}%`} stopColor={c} />)}
          </linearGradient>
        </defs>

        {[boxReads, boxFrags, boxFrip, boxAdt, boxRepReads, boxRepFrags, boxRepFrip].map((b, i) => <Frame key={i} b={b} />)}

        <Txt x={45} y={32.5} size={38} family={ARIAL} weight={700}>A</Txt>
        <Txt x={1160} y={34} size={38} family={ARIAL} weight={700}>B</Txt>
        <Txt x={1571} y={33.5} size={38} family={ARIAL} weight={700}>C</Txt>
        <Txt x={22} y={724} size={38} family={ARIAL} weight={700}>D</Txt>
        <Txt x={567} y={725} size={38} family={ARIAL} weight={700}>E</Txt>
        <Txt x={22} y={1242} size={38} family={ARIAL} weight={700}>F</Txt>
        <Txt x={1134} y={1242} size={38} family={ARIAL} weight={700}>G</Txt>

        <Txt x={135} y={49} size={24.7}>Total reads per cell</Txt>
        <Txt x={53} y={282} size={20} anchor="middle" rot={-90}>Reads</Txt>
        <Txt x={268} y={530} size={20} anchor="middle">Mark</Txt>
        <Txt x={509} y={49} size={25}>Total fragments per cell</Txt>
        <Txt x={431} y={281} size={20} anchor="middle" rot={-90}>Fragments</Txt>
        <Txt x={643} y={529} size={20} anchor="middle">Mark</Txt>
        <Txt x={887} y={47} size={23}>FRiP</Txt>
        <Txt x={836} y={283} size={18} anchor="middle" rot={-90}>FRIP</Txt>
        <Txt x={1011} y={532} size={20} anchor="middle">Mark</Txt>

        <Txt x={740} y={537.5} size={20}>dataset</Txt>
        <rect x={740} y={558} width={32} height={31.5} fill={SALMON} stroke={FRAME} />
        <rect x={740} y={589.5} width={32} height={31.5} fill={TEAL} stroke={FRAME} />
        <Txt x={783} y={574} size={16.2}>scCUT&amp;Tag</Txt>
        <Txt x={783} y={606} size={16.2}>scNTT-seq</Txt>

        <Txt x={1270} y={57} size={29}>ADT counts per cell</Txt>
        <Txt x={1178} y={271} size={24} anchor="middle" rot={-90}>nCount_ADT</Txt>

        <Txt x={1612} y={165} size={17.5} anchor="middle" rot={-90}>Single-cell multiplexed NTT-seq</Txt>
        <Txt x={1612} y={503} size={17.5} anchor="middle" rot={-90}>Single-cell multiplexed NTT-seq</Txt>
        <Txt x={1747.5} y={55} size={21}>H3K27me3</Txt>
        <Txt x={1747.5} y={395} size={21}>H3K27ac</Txt>
        <Txt x={1845} y={358.5} size={17.6} anchor="middle">Bulk-cell ChIP-seq</Txt>
        <Txt x={1845} y={698} size={17.6} anchor="middle">Bulk-cell ChIP-seq</Txt>
        <rect x={2008.8} y={285.4} width={18.2} height={154.6} fill="url(#spearmanBar)" stroke="#999" />
        <Txt x={2018} y={272} size={23.5} anchor="middle">0.6</Txt>
        <Txt x={2018} y={458.6} size={23.5} anchor="middle">0</Txt>
        <Txt x={2072.7} y={363} size={20.5} anchor="middle" rot={90}>Spearman</Txt>
        <Txt x={2043} y={363} size={20.5} anchor="middle" rot={90}>correlation</Txt>

        <Txt x={300.7} y={1133} size={21} anchor="middle" family={ARIAL}>umap.wnn_1</Txt>
        <Txt x={36.4} y={923} size={21} anchor="middle" rot={-90} family={ARIAL}>umap.wnn_2</Txt>

        <RSquared x={657} value="0.013" />
        <Txt x={816} y={1140} size={18} anchor="middle" family={ARIAL}>H3K27ac</Txt>
        <Txt x={593} y={944} size={18} anchor="middle" rot={-90} family={ARIAL}>H3K27me3</Txt>
        <RSquared x={1097} value="0.74" />
        <Txt x={1252.7} y={1139} size={18} anchor="middle" family={ARIAL}>H3K27ac (single-cell)</Txt>
        <Txt x={1028} y={945} size={18} anchor="middle" rot={-90} family={ARIAL}>H3K27ac (bulk)</Txt>
        <RSquared x={1511} value="0.81" />
        <Txt x={1670} y={1139} size={18} anchor="middle" family={ARIAL}>H3K27me3 (single-cell)</Txt>
        <Txt x={1449} y={945} size={18} anchor="middle" rot={-90} family={ARIAL}>H3K27me3 (bulk)</Txt>
        <circle cx={1749} cy={990} r={8.5} fill="#C2305F" />
        <circle cx={1749} cy={1030} r={8.5} fill={ORANGE} />
        <Txt x={1767} y={990} size={22.8} family={ARIAL} fill="#222">H3K27me3 peak</Txt>
        <Txt x={1767} y={1030} size={22.8} family={ARIAL} fill="#222">H3K27ac peak</Txt>

        <Txt x={105} y={1269} size={18.7}>Total reads per cell</Txt>
        <Txt x={43.5} y={1444} size={15.5} anchor="middle" rot={-90}>Reads</Txt>
        <Txt x={238} y={1629} size={15} anchor="middle">Mark</Txt>
        <Txt x={452} y={1269} size={18.7}>Total fragments per cell</Txt>
        <Txt x={392.7} y={1444} size={15.5} anchor="middle" rot={-90}>Fragments</Txt>
        <Txt x={585} y={1629} size={15} anchor="middle">Mark</Txt>
        <Txt x={818} y={1248} size={20}>FRiP</Txt>
        <Txt x={776} y={1447} size={16} anchor="middle" rot={-90}>FRIP</Txt>
        <Txt x={922.7} y={1656.7} size={16.5} anchor="middle">Mark</Txt>

        <Txt x={1697.8} y={1296.7} size={24.7}>Pearson correlation</Txt>
        <rect x={1697.8} y={1321} width={37.5} height={194} fill="url(#pearsonBar)" />
        {pearsonTicks.map((t, i) => (
          <Txt key={t} x={1748.6} y={[1321, 1360, 1399, 1437.7, 1476, 1515][i]} size={19.2}>{t}</Txt>
        ))}
      </svg>
    </div>
  );
}
